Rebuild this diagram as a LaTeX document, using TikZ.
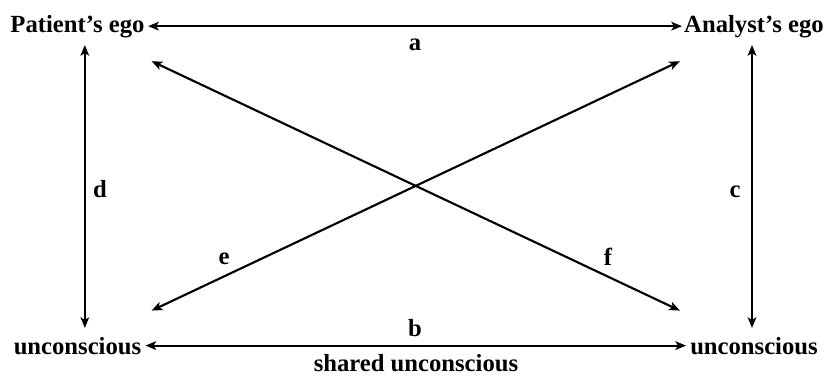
\documentclass[tikz,border=0pt]{standalone}
\usepackage{fontspec}
\setmainfont{Liberation Serif}
\usetikzlibrary{arrows.meta,positioning}

\begin{document}
\begin{tikzpicture}[x=0.75pt,y=-0.75pt,
  term/.style={font=\fontsize{18.5}{22}\selectfont\bfseries,inner sep=0pt,anchor=base},
  link/.style={line width=1.6pt,<->,>={Stealth[length=8pt,width=6.5pt,inset=2pt]}}]
  \useasboundingbox (0,0) rectangle (829,376);
  % the four terms
  \node[term] (pego) at (77.5,32) {Patient's ego};
  \node[term] (aego) at (754,32) {Analyst's ego};
  \node[term] (punc) at (77.5,354) {unconscious};
  \node[term] (aunc) at (754,354) {unconscious};
  % sides
  \draw[link,shorten <=2.5pt,shorten >=1.5pt] (pego.east) -- (aego.west);
  \draw[link,shorten <=3pt,shorten >=3pt] (punc.east) -- (aunc.west);
  \draw[link,shorten <=5.5pt,shorten >=6.5pt] ([xshift=5.5pt]pego.south) -- ([xshift=5.5pt]punc.north);
  \draw[link,shorten <=5.5pt,shorten >=6.5pt] ([xshift=-1.5pt]aego.south) -- ([xshift=-1.5pt]aunc.north);
  % diagonals
  \draw[link,shorten <=61.5pt,shorten >=61.5pt] (pego.center) -- (aunc.center);
  \draw[link,shorten <=61.5pt,shorten >=61.5pt] (punc.center) -- (aego.center);
  % labels
  \node[term] (la) at (415,50) {a};
  \node[term] (lb) at (415,336) {b};
  \node[term] (lc) at (735,197) {c};
  \node[term] (ld) at (100,197) {d};
  \node[term] (le) at (224,264) {e};
  \node[term] (lf) at (608,265) {f};
  \node[term] (shared) at (416,371) {shared unconscious};
\end{tikzpicture}
\end{document}
